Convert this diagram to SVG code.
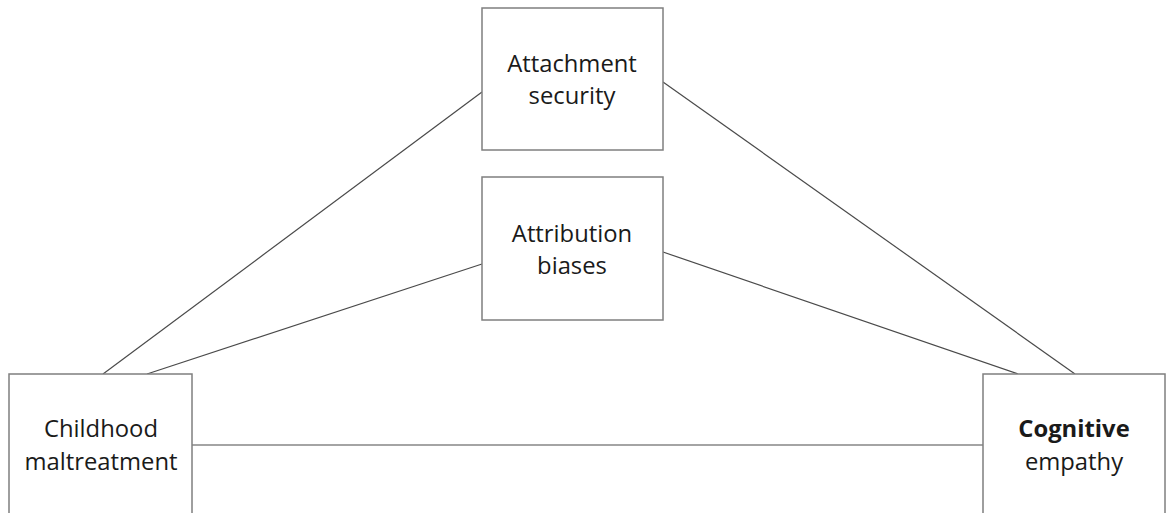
<svg xmlns="http://www.w3.org/2000/svg" width="1166" height="513" viewBox="0 0 1166 513">
<style>
.box{fill:#fff;stroke:#7f7f7f;stroke-width:1.5}
.lbl{font-family:"Open Sans","Liberation Sans",sans-serif;font-size:23.8px;fill:#1a1a1a;text-anchor:middle}
.conn{stroke:#4a4a4a;stroke-width:1.2;fill:none}
</style>
<rect width="1166" height="513" fill="#fff"/>
<g id="connectors">
<line class="conn" x1="103" y1="374" x2="482" y2="92"/>
<line class="conn" x1="147" y1="374" x2="482" y2="264"/>
<line class="conn" x1="663" y1="82" x2="1075" y2="374"/>
<line class="conn" x1="663" y1="252" x2="1018" y2="374"/>
<line class="conn" x1="192" y1="445" x2="983" y2="445"/>
</g>
<g id="attachment">
<rect class="box" x="482" y="8" width="181" height="142"/>
<text class="lbl" x="572" y="72">Attachment</text>
<text class="lbl" x="572" y="104">security</text>
</g>
<g id="attribution">
<rect class="box" x="482" y="177" width="181" height="143"/>
<text class="lbl" x="572" y="242">Attribution</text>
<text class="lbl" x="572" y="274">biases</text>
</g>
<g id="childhood">
<rect class="box" x="9" y="374" width="183" height="150"/>
<text class="lbl" x="101" y="437">Childhood</text>
<text class="lbl" x="101" y="470">maltreatment</text>
</g>
<g id="cognitive">
<rect class="box" x="983" y="374" width="182" height="150"/>
<text class="lbl" x="1074" y="437" font-weight="bold">Cognitive</text>
<text class="lbl" x="1074" y="470">empathy</text>
</g>
</svg>
